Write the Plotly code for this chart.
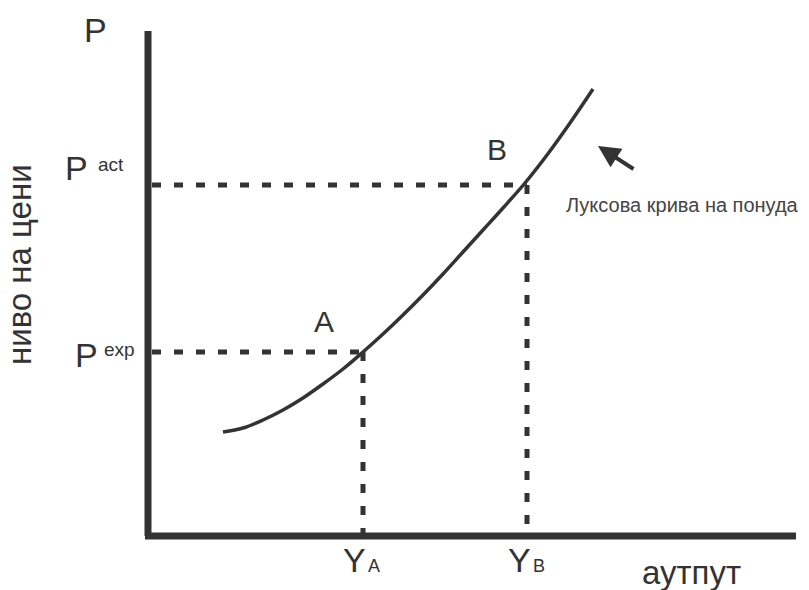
import plotly.graph_objects as go

# ---- data (diagram units) ----
curve_x = [0.75, 0.95, 1.15, 1.35, 1.55, 1.75, 1.95, 2.15, 2.35, 2.55, 2.75, 2.95, 3.15, 3.35, 3.55, 3.77, 3.99, 4.22, 4.45]
curve_y = [1.03, 1.07, 1.15, 1.25, 1.37, 1.51, 1.66, 1.83, 2.01, 2.20, 2.40, 2.61, 2.83, 3.05, 3.27, 3.52, 3.80, 4.12, 4.46]
Y_A, Y_B = 2.15, 3.79
P_EXP, P_ACT = 1.83, 3.50
axis_x_max = 6.48
axis_y_max = 5.04

ink = "#333333"
font_family = "Liberation Sans, Arial, sans-serif"

fig = go.Figure()

# axes drawn as thick lines
fig.add_trace(go.Scatter(x=[0, 0], y=[axis_y_max, -0.01], mode="lines",
                         line=dict(color=ink, width=7), hoverinfo="skip"))
fig.add_trace(go.Scatter(x=[-0.03, axis_x_max], y=[-0.01, -0.01], mode="lines",
                         line=dict(color=ink, width=7), hoverinfo="skip"))

# dashed guides
dash = "9px,13px"
for xv, yv in [(Y_A, P_EXP), (Y_B, P_ACT)]:
    fig.add_trace(go.Scatter(x=[0.04, xv], y=[yv, yv], mode="lines",
                             line=dict(color=ink, width=5, dash=dash), hoverinfo="skip"))
    fig.add_trace(go.Scatter(x=[xv, xv], y=[yv, 0.02], mode="lines",
                             line=dict(color=ink, width=5, dash=dash), hoverinfo="skip"))

# Lucas supply curve
fig.add_trace(go.Scatter(x=curve_x, y=curve_y, mode="lines",
                         line=dict(color=ink, width=3.5, shape="spline", smoothing=1),
                         hoverinfo="skip"))

def txt(x, y, s, size, color=ink, **kw):
    fig.add_annotation(x=x, y=y, xref="x", yref="y", text=s, showarrow=False,
                       font=dict(family=font_family, size=size, color=color), **kw)

txt(-0.53, 5.05, "P", 34)
txt(-0.72, 3.67, "P", 34)
txt(-0.37, 3.71, "act", 19)
txt(-0.62, 1.80, "P", 34)
txt(-0.29, 1.86, "exp", 19)
txt(1.76, 2.14, "A", 30)
txt(3.49, 3.86, "B", 30)
txt(2.06, -0.25, "Y", 34)
txt(2.26, -0.31, "A", 18)
txt(3.71, -0.25, "Y", 34)
txt(3.91, -0.31, "B", 18)
txt(5.43, -0.37, "аутпут", 33)
txt(5.34, 3.30, "Луксова крива на понуда", 20, color="#444444")
txt(-1.29, 2.70, "ниво на цени", 33, textangle=-90)

# arrow pointing at the curve
fig.add_annotation(x=4.50, y=3.89, ax=4.87, ay=3.65, xref="x", yref="y",
                   axref="x", ayref="y", text="", showarrow=True,
                   arrowhead=2, arrowsize=1.1, arrowwidth=4, arrowcolor=ink)

fig.update_layout(
    width=809, height=590,
    margin=dict(l=0, r=0, t=0, b=0),
    paper_bgcolor="white", plot_bgcolor="white",
    showlegend=False,
    xaxis=dict(range=[-1.48, 6.61], visible=False, fixedrange=True),
    yaxis=dict(range=[-0.55, 5.35], visible=False, fixedrange=True),
)

fig.write_html("out.html", config={"displayModeBar": False},
               post_script="document.body.style.margin='0';")
